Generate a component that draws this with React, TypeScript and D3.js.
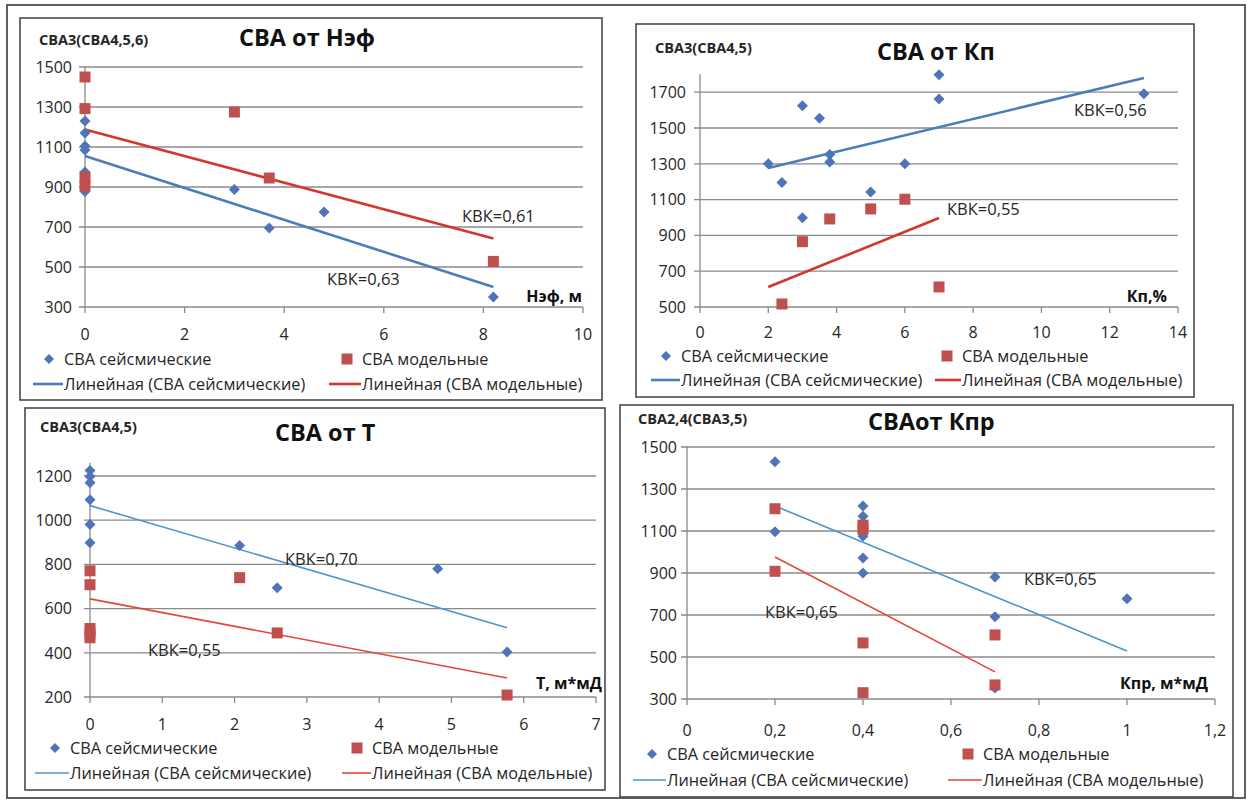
import React from 'react';
import * as d3 from 'd3';

type Pt = [number, number];

// ---- СВА от Нэф ----
const nefSeismic: Pt[] = [[0, 1230], [0, 1170], [0, 1105], [0, 1085], [0, 975], [0, 878], [3, 888], [3.7, 695], [4.8, 775], [8.2, 350]];
const nefModel: Pt[] = [[0, 1450], [0, 1292], [0, 950], [0, 905], [3, 1275], [3.7, 945], [8.2, 528]];
const nefSeismicTrend: Pt[] = [[0, 1055], [8.2, 400]];
const nefModelTrend: Pt[] = [[0, 1188], [8.2, 642]];
const nefXTicks = [0, 2, 4, 6, 8, 10];
const nefYTicks = [300, 500, 700, 900, 1100, 1300, 1500];

// ---- СВА от Кп ----
const kpSeismic: Pt[] = [[2, 1300], [2.4, 1195], [3, 1625], [3.5, 1555], [3.8, 1352], [3.8, 1310], [5, 1142], [6, 1300], [7, 1798], [7, 1662], [3, 998], [13, 1692]];
const kpModel: Pt[] = [[2.4, 517], [3, 865], [3.8, 992], [5, 1048], [6, 1102], [7, 612]];
const kpSeismicTrend: Pt[] = [[2, 1276], [13, 1779]];
const kpModelTrend: Pt[] = [[2, 612], [7, 997]];
const kpXTicks = [0, 2, 4, 6, 8, 10, 12, 14];
const kpYTicks = [500, 700, 900, 1100, 1300, 1500, 1700];

// ---- СВА от Т ----
const tSeismic: Pt[] = [[0, 1225], [0, 1198], [0, 1170], [0, 1092], [0, 980], [0, 898], [2.07, 885], [2.59, 694], [4.81, 780], [5.77, 404]];
const tModel: Pt[] = [[0, 771], [0, 708], [0, 510], [0, 490], [0, 468], [2.07, 740], [2.59, 490], [5.77, 209]];
const tSeismicTrend: Pt[] = [[0, 1066], [5.77, 513]];
const tModelTrend: Pt[] = [[0, 644], [5.77, 286]];
const tXTicks = [0, 1, 2, 3, 4, 5, 6, 7];
const tYTicks = [200, 400, 600, 800, 1000, 1200];

// ---- СВА от Кпр ----
const kprSeismic: Pt[] = [[0.2, 1430], [0.2, 1097], [0.4, 1219], [0.4, 1170], [0.4, 1075], [0.4, 972], [0.4, 900], [0.7, 881], [0.7, 692], [0.7, 352], [1.0, 777]];
const kprModel: Pt[] = [[0.2, 1206], [0.2, 908], [0.4, 1128], [0.4, 1108], [0.4, 567], [0.4, 330], [0.7, 605], [0.7, 367]];
const kprSeismicTrend: Pt[] = [[0.2, 1219], [1.0, 529]];
const kprModelTrend: Pt[] = [[0.2, 976], [0.7, 429]];
const kprXTicks = [0, 0.2, 0.4, 0.6, 0.8, 1, 1.2];
const kprYTicks = [300, 500, 700, 900, 1100, 1300, 1500];

const seriesNames = ['СВА сейсмические', 'СВА модельные'];
const trendNames = ['Линейная (СВА сейсмические)', 'Линейная (СВА модельные)'];

const FONT = "'Open Sans', Lato, sans-serif";
const TEXT = '#262626';
const GRID = '#8a8a8a';
const MARKER_BLUE = '#4f74b8';
const MARKER_RED = '#c0504d';

const TICK_FS = 16;
const LEGEND_FS = 16.3;

interface PanelLayout {
  frame: [number, number, number, number];
  xPx: [number, number];
  yPx: [number, number];
  xDomain: [number, number];
  yDomain: [number, number];
  yAxisTop: number;
  yLabelRight: number;
  xLabelBase: number;
  title: string;
  titlePos: [number, number];
  yLabel: string;
  yLabelPos: [number, number];
  xTitle: string;
  xTitlePos: [number, number];
  legendRows: [number, number];
  legendCols: [number, number];
  legendLineStart: [number, number];
  kvk: { text: string; pos: [number, number] }[];
  trendWidth: number;
  trendBlue: string;
  trendRed: string;
}

interface PanelData {
  seismic: Pt[];
  model: Pt[];
  seismicTrend: Pt[];
  modelTrend: Pt[];
  xTicks: number[];
  yTicks: number[];
}

const fmt = (v: number) => String(v).replace('.', ',');

function Panel({ L, D }: { L: PanelLayout; D: PanelData }) {
  const x = d3.scaleLinear().domain(L.xDomain).range(L.xPx);
  const y = d3.scaleLinear().domain(L.yDomain).range(L.yPx);
  const line = d3.line<Pt>().x((d) => x(d[0])).y((d) => y(d[1]));
  const [fx, fy, fw, fh] = L.frame;
  const x0 = x(L.xDomain[0]);
  const x1 = x(L.xDomain[1]);
  const yb = y(L.yDomain[0]);
  const diamond = (cx: number, cy: number, r = 5.5) =>
    `M${cx},${cy - r}L${cx + r},${cy}L${cx},${cy + r}L${cx - r},${cy}Z`;
  const sq = 11;
  return (
    <g>
      <rect x={fx} y={fy} width={fw} height={fh} fill="#fff" stroke="#4a4a4a" strokeWidth={1.6} />
      {/* gridlines */}
      {D.yTicks.map((t) => (
        <line key={'g' + t} x1={x0 - 6} x2={x1} y1={y(t)} y2={y(t)} stroke={GRID} strokeWidth={1.3} />
      ))}
      {/* y axis */}
      <line x1={x0} x2={x0} y1={y(L.yAxisTop)} y2={yb} stroke={GRID} strokeWidth={1.3} />
      {/* x ticks */}
      {D.xTicks.map((t) => (
        <line key={'xt' + t} x1={x(t)} x2={x(t)} y1={yb} y2={yb + 6} stroke={GRID} strokeWidth={1.3} />
      ))}
      {D.yTicks.map((t) => (
        <text key={'yl' + t} x={L.yLabelRight} y={y(t)} dy="0.36em" textAnchor="end" fontSize={TICK_FS} fill={TEXT}>
          {t}
        </text>
      ))}
      {D.xTicks.map((t) => (
        <text key={'xl' + t} x={x(t)} y={L.xLabelBase} textAnchor="middle" fontSize={TICK_FS} fill={TEXT}>
          {fmt(t)}
        </text>
      ))}
      {/* trendlines */}
      <path d={line(D.seismicTrend) || ''} fill="none" stroke={L.trendBlue} strokeWidth={L.trendWidth} />
      <path d={line(D.modelTrend) || ''} fill="none" stroke={L.trendRed} strokeWidth={L.trendWidth} />
      {/* markers */}
      {D.seismic.map((d, i) => (
        <path key={'s' + i} d={diamond(x(d[0]), y(d[1]))} fill={MARKER_BLUE} />
      ))}
      {D.model.map((d, i) => (
        <rect key={'m' + i} x={x(d[0]) - sq / 2} y={y(d[1]) - sq / 2} width={sq} height={sq} fill={MARKER_RED} />
      ))}
      {/* texts */}
      <text x={L.titlePos[0]} y={L.titlePos[1]} fontSize={23.5} fontWeight="bold" fill="#111">
        {L.title}
      </text>
      <text x={L.yLabelPos[0]} y={L.yLabelPos[1]} fontSize={14.5} fontWeight="bold" fill={TEXT}>
        {L.yLabel}
      </text>
      <text x={L.xTitlePos[0]} y={L.xTitlePos[1]} fontSize={16} fontWeight="bold" textAnchor="end" fill="#111">
        {L.xTitle}
      </text>
      {L.kvk.map((k, i) => (
        <text key={'k' + i} x={k.pos[0]} y={k.pos[1]} fontSize={16.5} fill={TEXT}>
          {k.text}
        </text>
      ))}
      {/* legend */}
      <path d={diamond(L.legendCols[0] - 15, L.legendRows[0], 5)} fill={MARKER_BLUE} />
      <text x={L.legendCols[0]} y={L.legendRows[0]} dy="0.35em" fontSize={LEGEND_FS} fill={TEXT}>
        {seriesNames[0]}
      </text>
      <rect x={L.legendCols[1] - 15 - 5.5} y={L.legendRows[0] - 5.5} width={11} height={11} fill={MARKER_RED} />
      <text x={L.legendCols[1]} y={L.legendRows[0]} dy="0.35em" fontSize={LEGEND_FS} fill={TEXT}>
        {seriesNames[1]}
      </text>
      <line x1={L.legendLineStart[0]} x2={L.legendCols[0] - 1} y1={L.legendRows[1]} y2={L.legendRows[1]} stroke={L.trendBlue} strokeWidth={L.trendWidth} />
      <text x={L.legendCols[0]} y={L.legendRows[1]} dy="0.35em" fontSize={LEGEND_FS} fill={TEXT}>
        {trendNames[0]}
      </text>
      <line x1={L.legendLineStart[1]} x2={L.legendCols[1] - 1} y1={L.legendRows[1]} y2={L.legendRows[1]} stroke={L.trendRed} strokeWidth={L.trendWidth} />
      <text x={L.legendCols[1]} y={L.legendRows[1]} dy="0.35em" fontSize={LEGEND_FS} fill={TEXT}>
        {trendNames[1]}
      </text>
    </g>
  );
}

const layoutNef: PanelLayout = {
  frame: [20, 18, 582, 382],
  xPx: [85, 583], yPx: [307, 67], xDomain: [0, 10], yDomain: [300, 1500], yAxisTop: 1500,
  yLabelRight: 72, xLabelBase: 340,
  title: 'СВА от Нэф', titlePos: [239, 46],
  yLabel: 'СВА3(СВА4,5,6)', yLabelPos: [39, 45],
  xTitle: 'Нэф, м', xTitlePos: [582, 302],
  legendRows: [359, 384], legendCols: [64, 362], legendLineStart: [33, 329],
  kvk: [{ text: 'КВК=0,63', pos: [327, 285] }, { text: 'КВК=0,61', pos: [462, 222] }],
  trendWidth: 2.6, trendBlue: '#4a7ebb', trendRed: '#d5352e',
};

const layoutKp: PanelLayout = {
  frame: [636, 24, 558, 373],
  xPx: [700, 1178], yPx: [307, 92.2], xDomain: [0, 14], yDomain: [500, 1700], yAxisTop: 1800,
  yLabelRight: 686, xLabelBase: 338,
  title: 'СВА от Кп', titlePos: [877, 60],
  yLabel: 'СВА3(СВА4,5)', yLabelPos: [655, 53],
  xTitle: 'Кп,%', xTitlePos: [1167, 302],
  legendRows: [356, 380], legendCols: [681, 962], legendLineStart: [651, 935],
  kvk: [{ text: 'КВК=0,56', pos: [1074, 116] }, { text: 'КВК=0,55', pos: [947, 215] }],
  trendWidth: 2.6, trendBlue: '#4a7ebb', trendRed: '#d5352e',
};

const layoutT: PanelLayout = {
  frame: [25, 408, 580, 382],
  xPx: [90, 596], yPx: [697, 476], xDomain: [0, 7], yDomain: [200, 1200], yAxisTop: 1260,
  yLabelRight: 72, xLabelBase: 730,
  title: 'СВА от Т', titlePos: [275, 441],
  yLabel: 'СВА3(СВА4,5)', yLabelPos: [40, 432],
  xTitle: 'Т, м*мД', xTitlePos: [602, 689],
  legendRows: [748, 773], legendCols: [70, 372], legendLineStart: [35, 342],
  kvk: [{ text: 'КВК=0,70', pos: [285, 565] }, { text: 'КВК=0,55', pos: [148, 656] }],
  trendWidth: 1.6, trendBlue: '#4f94cd', trendRed: '#e2463b',
};

const layoutKpr: PanelLayout = {
  frame: [620, 405, 613, 392],
  xPx: [687, 1215], yPx: [699, 447], xDomain: [0, 1.2], yDomain: [300, 1500], yAxisTop: 1500,
  yLabelRight: 677, xLabelBase: 736,
  title: 'СВАот Кпр', titlePos: [868, 430],
  yLabel: 'СВА2,4(СВА3,5)', yLabelPos: [638, 424],
  xTitle: 'Кпр, м*мД', xTitlePos: [1208, 689],
  legendRows: [754, 780], legendCols: [667, 983], legendLineStart: [633, 948],
  kvk: [{ text: 'КВК=0,65', pos: [1024, 585] }, { text: 'КВК=0,65', pos: [765, 618] }],
  trendWidth: 1.6, trendBlue: '#4f94cd', trendRed: '#e2463b',
};

export default function App() {
  return (
    <svg
      width={1249}
      height={802}
      style={{ position: 'absolute', left: 0, top: 0, fontFamily: FONT, background: '#fff' }}
    >
      <rect x={0} y={0} width={1249} height={802} fill="#fff" />
      <rect x={7} y={5} width={1238} height={793} fill="none" stroke="#3a3a3a" strokeWidth={1.6} />
      <Panel L={layoutNef} D={{ seismic: nefSeismic, model: nefModel, seismicTrend: nefSeismicTrend, modelTrend: nefModelTrend, xTicks: nefXTicks, yTicks: nefYTicks }} />
      <Panel L={layoutKp} D={{ seismic: kpSeismic, model: kpModel, seismicTrend: kpSeismicTrend, modelTrend: kpModelTrend, xTicks: kpXTicks, yTicks: kpYTicks }} />
      <Panel L={layoutT} D={{ seismic: tSeismic, model: tModel, seismicTrend: tSeismicTrend, modelTrend: tModelTrend, xTicks: tXTicks, yTicks: tYTicks }} />
      <Panel L={layoutKpr} D={{ seismic: kprSeismic, model: kprModel, seismicTrend: kprSeismicTrend, modelTrend: kprModelTrend, xTicks: kprXTicks, yTicks: kprYTicks }} />
    </svg>
  );
}
